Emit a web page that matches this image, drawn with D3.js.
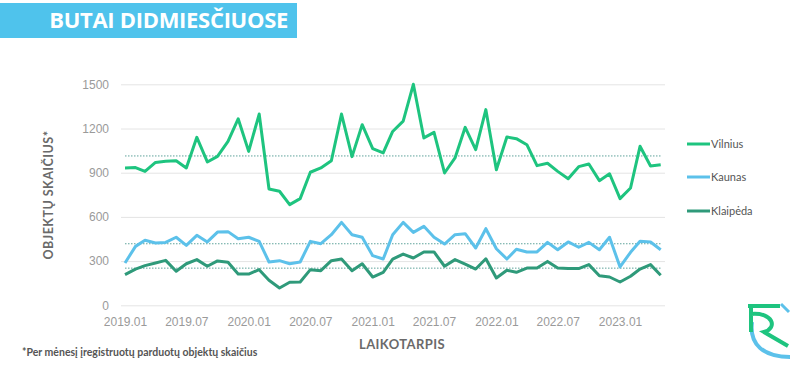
<!DOCTYPE html>
<html>
<head>
<meta charset="utf-8">
<script src="https://cdn.jsdelivr.net/npm/d3@7"></script>
<style>
  body { margin: 0; background: #fff; }
  svg { display: block; font-family: Lato, 'Open Sans', sans-serif; }
</style>
</head>
<body>
<svg id="chart" width="799" height="365"></svg>
<script>
// months 2019.01 .. 2023.05
const startMonth = new Date(2019, 0, 1);
const endMonth = new Date(2023, 4, 1);
const months = d3.timeMonths(startMonth, d3.timeMonth.offset(endMonth, 1));

const vilnius = [932, 935, 909, 970, 977, 981, 932, 1140, 973, 1011, 1113, 1266, 1045,
  1298, 789, 774, 683, 724, 903, 932, 981, 1298, 1009, 1226, 1063, 1034, 1180,
  1250, 1500, 1136, 1174, 898, 1000, 1208, 1056, 1328, 920, 1142, 1131, 1090,
  948, 964, 909, 859, 941, 959, 846, 893, 724, 796, 1079, 945, 954];
const kaunas = [287, 400, 441, 423, 427, 462, 407, 475, 430, 497, 500, 452, 462,
  434, 294, 303, 282, 294, 434, 418, 479, 563, 479, 462, 337, 314, 479,
  563, 495, 536, 462, 416, 479, 486, 389, 520, 384, 314, 380, 362,
  362, 427, 377, 430, 394, 427, 377, 462, 260, 360, 434, 430, 377];
const klaipeda = [208, 246, 269, 287, 305, 231, 282, 310, 265, 301, 292, 212, 212,
  242, 170, 117, 156, 158, 242, 235, 303, 314, 235, 282, 192, 224, 314,
  348, 321, 362, 362, 265, 310, 280, 246, 316, 185, 238, 224, 253,
  253, 298, 253, 249, 249, 276, 201, 192, 158, 197, 246, 276, 204];

const seriesNames = ['Vilnius', 'Kaunas', 'Klaipėda'];
const yTicks = [0, 300, 600, 900, 1200, 1500];

const colors = ['#1ec47f', '#5cc1ea', '#2f9a7a'];
const gridColor = '#e4e4e4';
const avgColor = '#5fa39b';

const svg = d3.select('#chart');

// Title banner
svg.append('rect').attr('x', 0).attr('y', 3).attr('width', 297).attr('height', 35).attr('fill', '#4fc3ec');
svg.append('text').attr('x', 288).attr('y', 28).attr('text-anchor', 'end')
  .attr('fill', '#fff').attr('font-size', 22).attr('font-weight', 700)
  .attr('font-family', "'Open Sans', sans-serif").attr('letter-spacing', -0.3)
  .text('BUTAI DIDMIESČIUOSE');

// Scales
const x = d3.scaleTime().domain([startMonth, endMonth]).range([125, 660.7]);
const y = d3.scaleLinear().domain([0, 1500]).range([305.3, 84.3]);
const gridLeft = 121, gridRight = 665;

// Grid + y labels
const yAxis = svg.append('g').attr('transform', `translate(${gridRight},0)`)
  .call(d3.axisLeft(y).tickValues(yTicks).tickFormat(d3.format('d'))
    .tickSize(gridRight - gridLeft).tickPadding(12));
yAxis.select('.domain').remove();
yAxis.selectAll('.tick line').attr('stroke', gridColor);
yAxis.selectAll('.tick text').attr('fill', '#9a9a9a').attr('font-size', 12);

// x labels
const xAxis = svg.append('g').attr('transform', `translate(0,${y(0)})`)
  .call(d3.axisBottom(x).tickValues(d3.timeMonth.every(6).range(startMonth, endMonth))
    .tickFormat(d3.timeFormat('%Y.%m')).tickSize(0).tickPadding(12));
xAxis.select('.domain').remove();
xAxis.selectAll('.tick text').attr('fill', '#9a9a9a').attr('font-size', 12);

// Averages (dotted)
const allSeries = [vilnius, kaunas, klaipeda];
allSeries.forEach((s) => {
  const m = d3.mean(s);
  svg.append('line').attr('x1', x(startMonth)).attr('x2', x(endMonth))
    .attr('y1', y(m)).attr('y2', y(m))
    .attr('stroke', avgColor).attr('stroke-width', 1).attr('stroke-dasharray', '1.5,1.5');
});

// Lines
const line = d3.line().x((d, i) => x(months[i])).y((d) => y(d));
allSeries.forEach((s, k) => {
  svg.append('path').datum(s).attr('d', line).attr('fill', 'none')
    .attr('stroke', colors[k]).attr('stroke-width', 3).attr('stroke-linejoin', 'round');
});

// Legend
const legendY = [144, 177, 211];
seriesNames.forEach((name, k) => {
  svg.append('line').attr('x1', 687).attr('x2', 710).attr('y1', legendY[k]).attr('y2', legendY[k])
    .attr('stroke', colors[k]).attr('stroke-width', 3);
  svg.append('text').attr('x', 711).attr('y', legendY[k] + 4).attr('font-size', 11)
    .attr('fill', '#555').text(name);
});

// Axis titles
svg.append('text').attr('transform', 'translate(53,195) rotate(-90)').attr('text-anchor', 'middle')
  .attr('font-size', 12.5).attr('font-weight', 700).attr('fill', '#6a6a6a').attr('letter-spacing', 0.5)
  .text('OBJEKTŲ SKAIČIUS*');
svg.append('text').attr('x', 402).attr('y', 349).attr('text-anchor', 'middle')
  .attr('font-size', 13).attr('font-weight', 700).attr('fill', '#6a6a6a').attr('letter-spacing', 0.4)
  .text('LAIKOTARPIS');

// Footnote
svg.append('text').attr('x', 22).attr('y', 356).attr('font-size', 10.5).attr('font-weight', 700)
  .attr('fill', '#555').text('*Per mėnesį įregistruotų parduotų objektų skaičius');

// Logo
const logo = svg.append('g').attr('fill', 'none').attr('stroke-linecap', 'butt');
logo.append('path').attr('d', 'M752,322 C749,345 764,357 790,357')
  .attr('stroke', '#5cc1ea').attr('stroke-width', 4);
logo.append('path').attr('d', 'M781,304 L789,312')
  .attr('stroke', '#5cc1ea').attr('stroke-width', 3);
logo.append('path').attr('d', 'M748,306 L780,306 M751,306 L751,332 M751,314 C773,312 778,328 764,332 L788,346')
  .attr('stroke', '#1ec47f').attr('stroke-width', 4);
</script>
</body>
</html>
